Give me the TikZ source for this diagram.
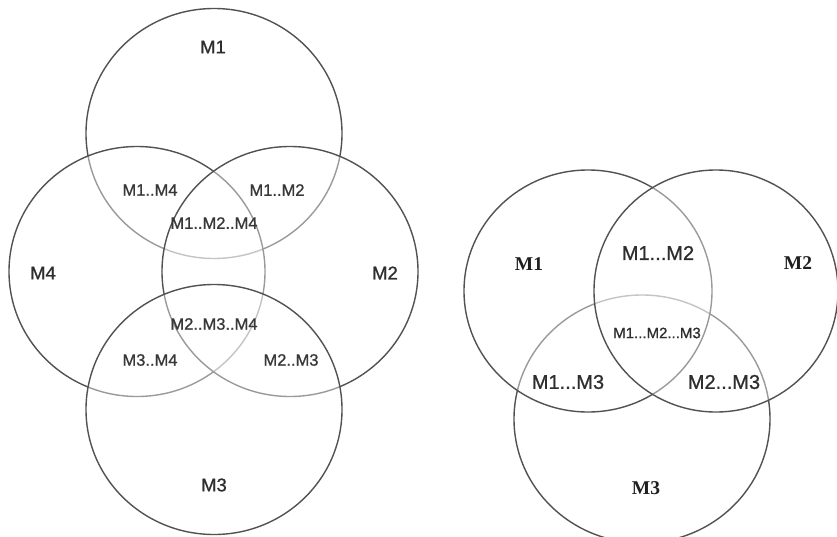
\documentclass[tikz,border=0pt]{standalone}
\usepackage{fontspec}
\setmainfont{Liberation Sans}
\newfontfamily\sansheavy[FakeBold=0.9]{Liberation Sans}
\newfontfamily\serifbold{Liberation Serif}
\begin{document}
\begin{tikzpicture}[x=1pt,y=-1pt,
  ring/.style={draw=black!68, line width=1.4pt, fill=white, fill opacity=0.42},
  big/.style={font=\sansheavy\fontsize{18.5}{18}\selectfont, text=black!82, inner sep=0pt},
  mid/.style={font=\sansheavy\fontsize{16.5}{16}\selectfont, text=black!78, inner sep=0pt},
  small/.style={font=\sansheavy\fontsize{15}{15}\selectfont, text=black!82, inner sep=0pt},
  rbig/.style={font=\sansheavy\fontsize{20}{20}\selectfont, text=black!82, inner sep=0pt},
  sbold/.style={font=\serifbold\bfseries\fontsize{19.5}{19}\selectfont, text=black!88, inner sep=0pt}]
\useasboundingbox[fill=white] (0,0) rectangle (837,536);
% left diagram: four circles
\draw[ring] (214,133.5) ellipse [x radius=128pt, y radius=125pt];
\draw[ring] (137,271.5) ellipse [x radius=128pt, y radius=125pt];
\draw[ring] (290,271.5) ellipse [x radius=128pt, y radius=125pt];
\draw[ring] (214,409.5) ellipse [x radius=128pt, y radius=125pt];
\node[big] (lM1) at (213,47) {M1};
\node[big] (lM4) at (43,273) {M4};
\node[big] (lM2) at (385,273) {M2};
\node[big] (lM3) at (214,485) {M3};
\node[mid] (lM14) at (150,190) {M1..M4};
\node[mid] (lM12) at (277,190) {M1..M2};
\node[mid] (lM124) at (214,223) {M1..M2..M4};
\node[mid] (lM234) at (214,324) {M2..M3..M4};
\node[mid] (lM34) at (150,360) {M3..M4};
\node[mid] (lM23) at (291,360) {M2..M3};
% right diagram: three circles
\draw[ring] (642,419) ellipse [x radius=128pt, y radius=124pt];
\draw[ring] (588,291) ellipse [x radius=124pt, y radius=121pt];
\draw[ring] (716,291) ellipse [x radius=122pt, y radius=121pt];
\node[sbold] (rM1) at (529,264) {M1};
\node[sbold] (rM2) at (798,263) {M2};
\node[sbold] (rM3) at (646,488) {M3};
\node[rbig] (rM12) at (658,253) {M1...M2};
\node[small] (rM123) at (657,333) {M1...M2...M3};
\node[rbig] (rM13) at (568,382) {M1...M3};
\node[rbig] (rM23) at (724,382) {M2...M3};
\end{tikzpicture}
\end{document}
